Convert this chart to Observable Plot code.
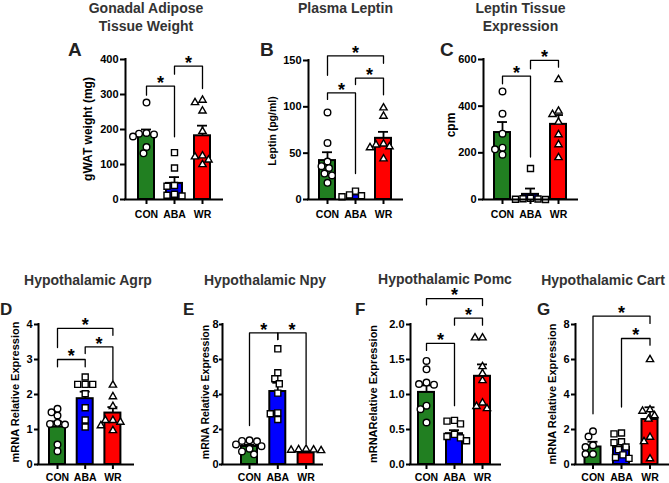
<!DOCTYPE html>
<html><head><meta charset="utf-8">
<script src="https://cdn.jsdelivr.net/npm/d3@7"></script>
<script src="https://cdn.jsdelivr.net/npm/@observablehq/plot@0.6"></script>
<style>
body{margin:0;background:#fff;}
#fig{position:relative;width:669px;height:483px;overflow:hidden;font-family:"Liberation Sans",Arial,sans-serif;font-weight:bold;background:#fff;}
.title{position:absolute;width:220px;text-align:center;font-size:14px;line-height:18px;color:#333;white-space:nowrap;}
.letter{position:absolute;color:#222;white-space:nowrap;}
.ylab{position:absolute;white-space:nowrap;transform:translate(-50%,-50%) rotate(-90deg);font-size:11px;color:#000;}
.panel{position:absolute;}
</style></head><body><div id="fig"></div>
<script>
const groups = ["CON", "ABA", "WR"];
const groupColors = ["#217f21", "#0000ff", "#ff0000"];

// A: Gonadal adipose tissue weight (mg)
const gwatCON = [277, 190, 188, 186, 180, 150, 132];
const gwatABA = [134, 90, 40, 38, 15, 12, 10];
const gwatWR = [284, 277, 253, 195, 125, 122, 113, 100];
const gwatMeans = [186, 46, 182];
const gwatSEM = [14, 18, 29];
const gwatTicks = [0, 100, 200, 300, 400];
const gwatBrackets = [[0, 1, 324, 298, 179], [1, 2, 381, 358, 317]];

// B: Plasma leptin (pg/ml)
const leptinCON = [94, 61, 41, 36, 34, 28, 26, 18];
const leptinABA = [9, 5, 4, 3];
const leptinWR = [99, 90, 60, 59, 57, 56, 44];
const leptinMeans = [42, 5, 66];
const leptinSEM = [9, 2, 7];
const leptinTicks = [0, 50, 100, 150];
const leptinBrackets = [[0, 2, 155, 134, 147], [0, 1, 115, 108, 28], [1, 2, 131, 124, 113]];

// C: Leptin tissue expression (cpm)
const cpmCON = [463, 368, 282, 222, 215, 192];
const cpmABA = [133, 5, 3, 2, 1, 0];
const cpmWR = [514, 379, 365, 332, 278, 235, 180];
const cpmMeans = [287, 22, 322];
const cpmSEM = [45, 25, 40];
const cpmTicks = [0, 200, 400, 600];
const cpmBrackets = [[0, 1, 529, 496, 182], [1, 2, 596, 560, 567]];

// D: Hypothalamic Agrp
const agrpCON = [1.59, 1.49, 1.40, 1.19, 1.16, 1.14, 0.57, 0.38];
const agrpABA = [2.50, 2.29, 2.29, 2.29, 2.02, 1.62, 1.27, 1.07];
const agrpWR = [2.27, 1.94, 1.66, 1.26, 1.26, 1.21, 1.11, 0.97];
const agrpMeans = [1.07, 1.88, 1.47];
const agrpSEM = [0.16, 0.2, 0.17];
const agrpTicks = [0, 1, 2, 3, 4];
const agrpBrackets = [[0, 2, 3.89, 3.34, 3.69], [0, 1, 3.0, 2.79, 2.79], [1, 2, 3.36, 3.17, 2.41]];

// E: Hypothalamic Npy
const npyCON = [1.38, 1.35, 1.33, 1.15, 1.05, 0.9, 0.75, 0.58];
const npyABA = [6.61, 5.24, 4.9, 4.61, 4.08, 2.95, 2.9, 2.57];
const npyWR = [0.88, 0.85, 0.84, 0.82, 0.8];
const npyMeans = [1.03, 4.17, 0.66];
const npySEM = [0.1, 0.5, 0.05];
const npyTicks = [0, 2, 4, 6, 8];
const npyBrackets = [[0, 1, 7.52, 2.23, 7.14], [1, 2, 7.52, 7.14, 1.18]];

// F: Hypothalamic Pomc
const pomcCON = [1.48, 1.36, 1.17, 1.15, 1.14, 0.84, 0.79, 0.60];
const pomcABA = [0.63, 0.62, 0.58, 0.43, 0.40, 0.38, 0.34];
const pomcWR = [1.81, 1.81, 1.40, 1.30, 1.20, 0.88, 0.83, 0.80];
const pomcMeans = [1.03, 0.44, 1.26];
const pomcSEM = [0.1, 0.05, 0.17];
const pomcTicks = [0, 0.5, 1.0, 1.5, 2.0];
const pomcBrackets = [[0, 2, 2.37, 2.28, 2.27], [1, 2, 2.09, 1.99, 1.99], [0, 1, 1.73, 1.63, 0.84]];

// G: Hypothalamic Cart
const cartCON = [1.9, 1.6, 1.1, 1.0, 0.6, 0.6];
const cartABA = [1.8, 1.75, 1.3, 1.25, 1.0, 0.85, 0.55, 0.4, 0.35];
const cartWR = [6.0, 3.13, 3.05, 2.8, 2.6, 1.56, 1.31, 0.33];
const cartMeans = [1.0, 0.97, 2.57];
const cartSEM = [0.3, 0.18, 0.7];
const cartTicks = [0, 2, 4, 6, 8];
const cartBrackets = [[0, 2, 8.48, 2.9, 8.06], [1, 2, 7.2, 3.28, 6.82]];

const panels = [
  {letter: "A", title: ["Gonadal Adipose", "Tissue Weight"], ylabel: "gWAT weight (mg)", pts: [gwatCON, gwatABA, gwatWR], means: gwatMeans, sems: gwatSEM, ticks: gwatTicks, brackets: gwatBrackets, fmt: "d",
   lay: {left: 85, right: 228, axisX: 125, axisRight: 222, c0: 146, step: 28, top: 35, bottom: 228, yTop: 59, yBot: 199, titleX: 146, titleBase: 12.7, letterX: 68, letterBase: 55, letterSize: 19, ylabX: 88, ylabY: 129, ylabSize: 12, tickSize: 5, tickPad: 2, xPad: 6}},
  {letter: "B", title: ["Plasma Leptin"], ylabel: "Leptin (pg/ml)", pts: [leptinCON, leptinABA, leptinWR], means: leptinMeans, sems: leptinSEM, ticks: leptinTicks, brackets: leptinBrackets, fmt: "d",
   lay: {left: 270, right: 408, axisX: 308, axisRight: 402, c0: 327, step: 28, top: 35, bottom: 228, yTop: 60, yBot: 199, titleX: 345.5, titleBase: 12.7, letterX: 260, letterBase: 55, letterSize: 19, ylabX: 272, ylabY: 131, ylabSize: 10.5, tickSize: 5, tickPad: 2, xPad: 6}},
  {letter: "C", title: ["Leptin Tissue", "Expression"], ylabel: "cpm", pts: [cpmCON, cpmABA, cpmWR], means: cpmMeans, sems: cpmSEM, ticks: cpmTicks, brackets: cpmBrackets, fmt: "d",
   lay: {left: 445, right: 585, axisX: 483, axisRight: 577, c0: 502, step: 28, top: 35, bottom: 228, yTop: 59, yBot: 199, titleX: 520.5, titleBase: 12.7, letterX: 440, letterBase: 55, letterSize: 19, ylabX: 451, ylabY: 125, ylabSize: 12, tickSize: 5, tickPad: 2, xPad: 6}},
  {letter: "D", title: ["Hypothalamic Agrp"], ylabel: "mRNA Relative Expression", pts: [agrpCON, agrpABA, agrpWR], means: agrpMeans, sems: agrpSEM, ticks: agrpTicks, brackets: agrpBrackets, fmt: "d",
   lay: {left: 0, right: 140, axisX: 38, axisRight: 133, c0: 57, step: 27.7, top: 280, bottom: 483, yTop: 324, yBot: 464, titleX: 88, titleBase: 285, letterX: 0, letterBase: 315, letterSize: 17, ylabX: 15, ylabY: 392, ylabSize: 11, tickSize: 4, tickPad: 2, xPad: 4}},
  {letter: "E", title: ["Hypothalamic Npy"], ylabel: "mRNA Relative Expression", pts: [npyCON, npyABA, npyWR], means: npyMeans, sems: npySEM, ticks: npyTicks, brackets: npyBrackets, fmt: "d",
   lay: {left: 190, right: 328, axisX: 222, axisRight: 322, c0: 249, step: 28.3, top: 280, bottom: 483, yTop: 324, yBot: 464, titleX: 265, titleBase: 285, letterX: 183, letterBase: 315, letterSize: 17, ylabX: 205, ylabY: 392, ylabSize: 10.5, tickSize: 3, tickPad: 1, xPad: 4}},
  {letter: "F", title: ["Hypothalamic Pomc"], ylabel: "mRNARelative Expression", pts: [pomcCON, pomcABA, pomcWR], means: pomcMeans, sems: pomcSEM, ticks: pomcTicks, brackets: pomcBrackets, fmt: ".1f",
   lay: {left: 380, right: 505, axisX: 410, axisRight: 500, c0: 426, step: 28, top: 280, bottom: 483, yTop: 324, yBot: 464, titleX: 445, titleBase: 284, letterX: 355, letterBase: 315, letterSize: 17, ylabX: 373, ylabY: 394, ylabSize: 11, tickSize: 4, tickPad: 2, xPad: 4}},
  {letter: "G", title: ["Hypothalamic Cart"], ylabel: "mRNA Relative Expression", pts: [cartCON, cartABA, cartWR], means: cartMeans, sems: cartSEM, ticks: cartTicks, brackets: cartBrackets, fmt: "d",
   lay: {left: 545, right: 669, axisX: 575, axisRight: 668, c0: 592.5, step: 28.5, top: 280, bottom: 483, yTop: 324, yBot: 464, titleX: 603, titleBase: 285, letterX: 537, letterBase: 315, letterSize: 17, ylabX: 552, ylabY: 394, ylabSize: 11, tickSize: 4, tickPad: 2, xPad: 4}}
];

const symbols = ["circle", "square", "triangle"];
const symR = [3.3, 3.4, 2.7];

// simple beeswarm: horizontal offsets (in pixels) so that symbols do not overlap
function swarm(vals, pxPerUnit, diam) {
  const order = vals.map((v, k) => k).sort((a, b) => vals[b] - vals[a]);
  const placed = [];
  const out = new Array(vals.length);
  for (const k of order) {
    const py = vals[k] * pxPerUnit;
    let off = 0;
    for (let s = 0; s < 40; s++) {
      const cand = s === 0 ? 0 : (s % 2 ? -1 : 1) * Math.ceil(s / 2) * 1.5;
      if (placed.every(p => Math.hypot(p.x - cand, p.y - py) >= diam)) { off = cand; break; }
    }
    placed.push({x: off, y: py});
    out[k] = off;
  }
  return out;
}

const fig = document.getElementById("fig");

for (const p of panels) {
  const L = p.lay;
  const ymax = p.ticks[p.ticks.length - 1];
  const xl = (L.axisX - L.c0) / L.step;
  const xr = 2 + (L.axisRight - L.c0 - 2 * L.step) / L.step;
  const pxPerUnit = (L.yBot - L.yTop) / ymax;
  const hw = 8 / L.step, capHw = 5 / L.step;

  const bars = groups.map((g, i) => ({i, g, mean: p.means[i], sem: p.sems[i]}));
  const dotsByGroup = p.pts.map((vals, i) => {
    const offs = swarm(vals, pxPerUnit, 6.6);
    return vals.map((v, k) => ({x: i + offs[k] / L.step, v}));
  });
  const brLines = p.brackets.flatMap((b, j) => [
    {x: b[0], y: b[3], z: j}, {x: b[0], y: b[2], z: j}, {x: b[1], y: b[2], z: j}, {x: b[1], y: b[4], z: j}
  ]);

  const chart = Plot.plot({
    width: L.right - L.left,
    height: L.bottom - L.top,
    marginLeft: L.axisX - L.left,
    marginRight: L.right - L.axisRight,
    marginTop: L.yTop - L.top,
    marginBottom: L.bottom - L.yBot,
    style: {background: "transparent", fontFamily: "'Liberation Sans', Arial, sans-serif", fontWeight: "bold", fontSize: "11px", color: "black", overflow: "visible"},
    x: {domain: [xl, xr], axis: null},
    y: {domain: [0, ymax], axis: null},
    marks: [
      Plot.rectY(bars, {x1: d => d.i - hw, x2: d => d.i + hw, y1: 0, y2: "mean", fill: d => groupColors[d.i], stroke: "black", strokeWidth: 2}),
      Plot.ruleX(bars, {x: "i", y1: "mean", y2: d => d.mean + d.sem, stroke: "black", strokeWidth: 1.8}),
      Plot.ruleY(bars, {y: d => d.mean + d.sem, x1: d => d.i - capHw, x2: d => d.i + capHw, stroke: "black", strokeWidth: 1.8}),
      ...dotsByGroup.map((ds, i) => Plot.dot(ds, {x: "x", y: "v", symbol: symbols[i], r: symR[i], fill: "white", stroke: "black", strokeWidth: 1.4})),
      Plot.line(brLines, {x: "x", y: "y", z: "z", stroke: "black", strokeWidth: 1.3}),
      Plot.text(p.brackets, {x: b => (b[0] + b[1]) / 2, y: b => b[2], text: () => "*", fontSize: 18, fontWeight: "bold", dy: -3}),
      Plot.axisY({ticks: p.ticks, tickFormat: p.fmt, tickSize: L.tickSize, tickPadding: L.tickPad, strokeWidth: 2, fontSize: 11, label: null}),
      Plot.axisX({ticks: [0, 1, 2], tickFormat: i => groups[i], tickSize: 5, tickPadding: L.xPad, strokeWidth: 2, fontSize: 10.5, label: null}),
      Plot.ruleY([0], {stroke: "black", strokeWidth: 2, strokeLinecap: "square"}),
      Plot.ruleX([xl], {y1: 0, y2: ymax, stroke: "black", strokeWidth: 2, strokeLinecap: "square"})
    ]
  });
  const wrap = document.createElement("div");
  wrap.className = "panel";
  wrap.style.left = L.left + "px";
  wrap.style.top = L.top + "px";
  wrap.appendChild(chart);
  fig.appendChild(wrap);

  const t = document.createElement("div");
  t.className = "title";
  t.style.left = (L.titleX - 110) + "px";
  t.style.top = (L.titleBase - 13.9) + "px";
  t.innerHTML = p.title.join("<br>");
  fig.appendChild(t);

  const le = document.createElement("div");
  le.className = "letter";
  le.style.fontSize = L.letterSize + "px";
  le.style.lineHeight = L.letterSize + "px";
  le.style.left = L.letterX + "px";
  le.style.top = (L.letterBase - 0.795 * L.letterSize) + "px";
  le.textContent = p.letter;
  fig.appendChild(le);

  const yl = document.createElement("div");
  yl.className = "ylab";
  yl.style.fontSize = L.ylabSize + "px";
  yl.style.left = L.ylabX + "px";
  yl.style.top = L.ylabY + "px";
  yl.textContent = p.ylabel;
  fig.appendChild(yl);
}
</script></body></html>
